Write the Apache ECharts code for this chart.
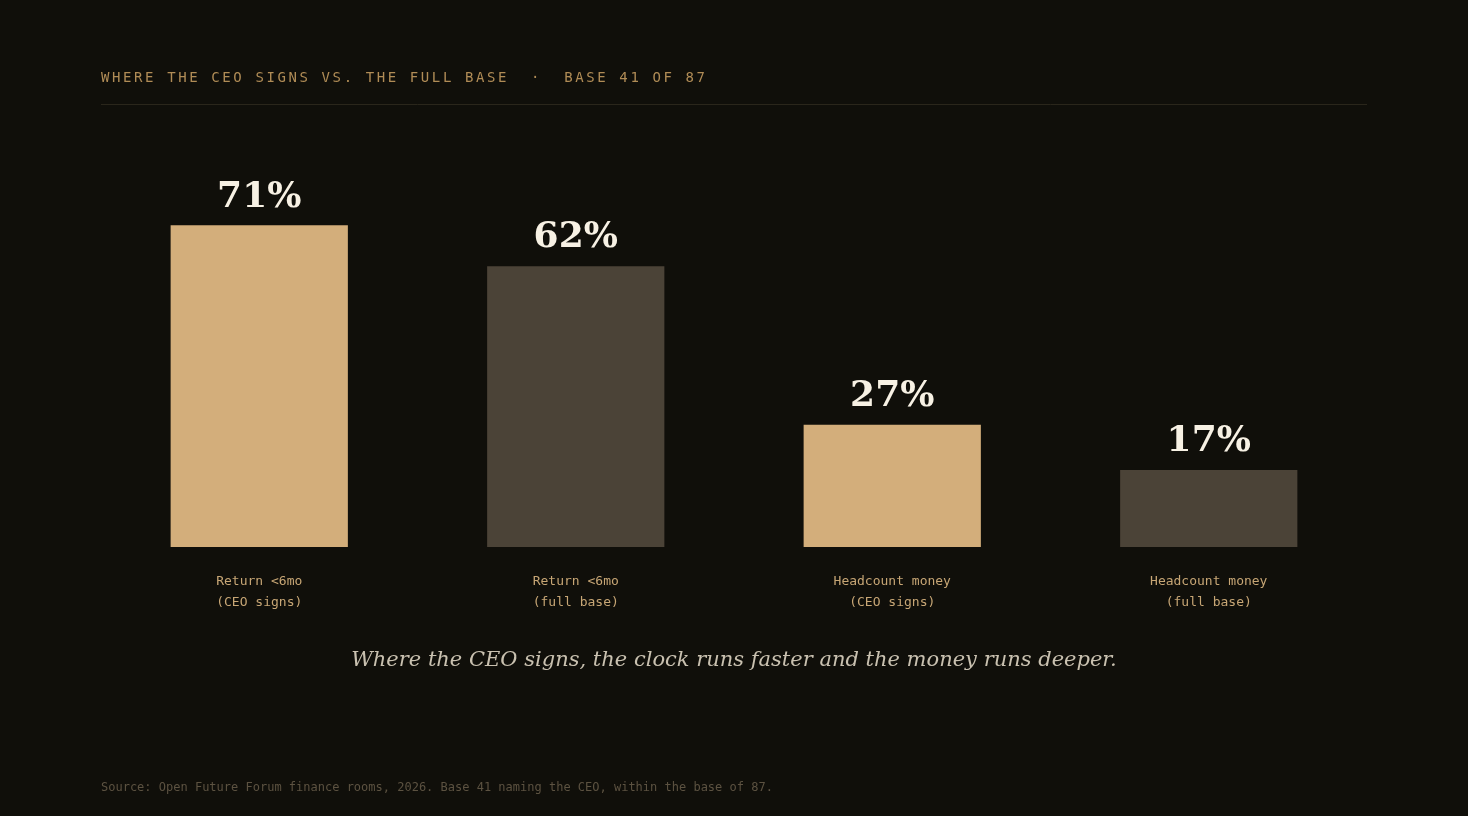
<!DOCTYPE html>
<html>
<head>
<meta charset="utf-8">
<title>Where the CEO signs</title>
<script src="https://cdn.jsdelivr.net/npm/echarts@6/dist/echarts.min.js"></script>
<style>
  html, body { margin: 0; padding: 0; background: #100f0a; }
  #wrap { position: relative; width: 1468px; height: 816px; }
  #chart { position: absolute; left: 0; top: 0; width: 1468px; height: 816px; }
  #head {
    position: absolute; left: 101px; top: 69px;
    font-family: "DejaVu Sans Mono", monospace; font-size: 14px;
    letter-spacing: 2.6px; color: #b08c56; white-space: pre;
  }
</style>
</head>
<body>
<div id="wrap">
  <div id="chart"></div>
  <div id="head">WHERE THE CEO SIGNS VS. THE FULL BASE  ·  BASE 41 OF 87</div>
</div>
<script>
// data
const categories = [
  "Return <6mo\n(CEO signs)",
  "Return <6mo\n(full base)",
  "Headcount money\n(CEO signs)",
  "Headcount money\n(full base)"
];
const shares = [71, 62, 27, 17];
const groups = ["ceo", "base", "ceo", "base"];

const colors = { ceo: "#d3ae7b", base: "#4b4337" };

const el = document.getElementById("chart");
const chart = echarts.init(el);

const options = {
  backgroundColor: "#100f0a",
  animation: false,
  grid: {
    top: 94,
    bottom: 269,
    left: 101,
    right: 101,
    containLabel: false
  },
  xAxis: {
    type: "category",
    data: categories,
    axisLine: { show: false },
    axisTick: { show: false },
    axisLabel: {
      margin: 24,
      fontFamily: "DejaVu Sans Mono",
      fontSize: 13,
      lineHeight: 21,
      color: "#c7a675",
      align: "center"
    }
  },
  yAxis: {
    type: "value",
    min: 0,
    max: 100,
    show: false,
    splitLine: { show: false }
  },
  series: [
    {
      type: "bar",
      barWidth: "56%",
      data: shares.map((v, i) => ({
        value: v,
        itemStyle: { color: colors[groups[i]] }
      })),
      label: {
        show: true,
        position: "top",
        distance: 10,
        formatter: "{c}%",
        fontFamily: "DejaVu Serif",
        fontWeight: "bold",
        fontSize: 36,
        color: "#f7f1e4"
      }
    }
  ],
  graphic: [
    {
      type: "line",
      shape: { x1: 101, y1: 104.5, x2: 1367, y2: 104.5 },
      style: { stroke: "#2a261b", lineWidth: 1 }
    },
    {
      type: "text",
      left: "center",
      top: 650,
      style: {
        text: "Where the CEO signs, the clock runs faster and the money runs deeper.",
        fontFamily: "DejaVu Serif",
        fontStyle: "italic",
        fontSize: 21,
        fill: "#c9c1b0"
      }
    },
    {
      type: "text",
      left: 101,
      top: 782,
      style: {
        text: "Source: Open Future Forum finance rooms, 2026. Base 41 naming the CEO, within the base of 87.",
        fontFamily: "DejaVu Sans Mono",
        fontSize: 12,
        fill: "#5c5241"
      }
    }
  ]
};
chart.setOption(options);
</script>
</body>
</html>
